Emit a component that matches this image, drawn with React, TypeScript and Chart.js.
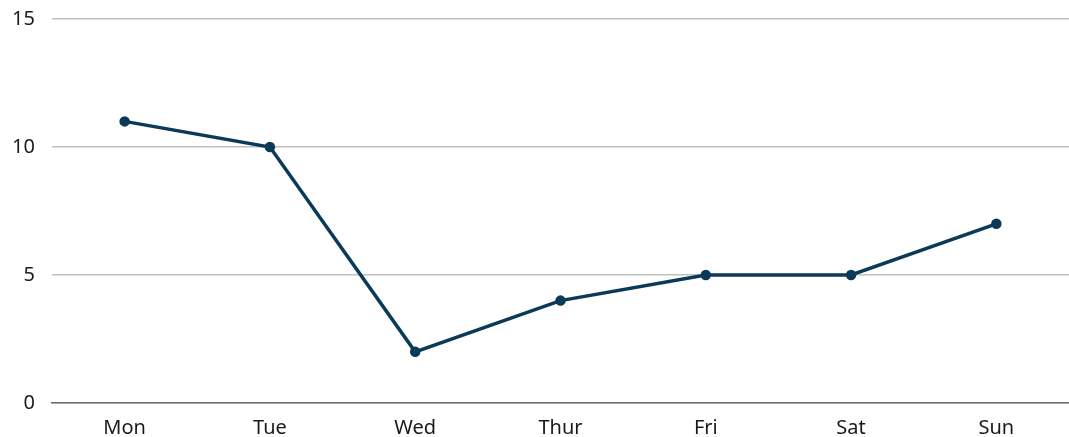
import React, { useEffect, useRef } from "react";
import { Chart, registerables } from "chart.js";

Chart.register(...registerables);

const categories = ["Mon", "Tue", "Wed", "Thur", "Fri", "Sat", "Sun"];
const values = [11, 10, 2, 4, 5, 5, 7];
const yTicks = [0, 5, 10, 15];

export default function App() {
  const ref = useRef<HTMLCanvasElement | null>(null);
  useEffect(() => {
    document.body.style.margin = "0";
    const ctx = ref.current!;
    const chart = new Chart(ctx, {
      type: "line",
      data: {
        labels: categories,
        datasets: [
          {
            data: values,
            borderColor: "#0b3a58",
            backgroundColor: "#0b3a58",
            borderWidth: 3.5,
            pointRadius: 3.5,
            pointHoverRadius: 3.5,
            tension: 0,
          },
        ],
      },
      options: {
        animation: false,
        responsive: false,
        maintainAspectRatio: false,
        layout: { autoPadding: false, padding: { top: 8, right: 0, left: 0, bottom: 0 } },
        plugins: { legend: { display: false }, tooltip: { enabled: false }, title: { display: false } },
        scales: {
          x: {
            offset: true,
            grid: { display: false, drawTicks: false, tickLength: 0 },
            border: { display: true, color: "#6b6b6b", width: 1.5 },
            ticks: { padding: 13, color: "#1a1a1a", font: { family: "Noto Sans", size: 20 } },
            afterFit: (s: any) => { s.height = 34; },
          },
          y: {
            min: 0,
            max: 15,
            afterBuildTicks: (s: any) => { s.ticks = yTicks.map((v) => ({ value: v })); },
            grid: { color: "#bfbfbf", lineWidth: 1.5, drawTicks: false, tickLength: 0 },
            border: { display: false },
            ticks: { padding: 17, color: "#1a1a1a", font: { family: "Noto Sans", size: 20 } },
            afterFit: (s: any) => { s.width = 52; },
          },
        },
      },
    });
    return () => chart.destroy();
  }, []);
  return (
    <div style={{ width: 1069, height: 437, overflow: "hidden" }}>
      <canvas ref={ref} width={1069} height={447} style={{ width: 1069, height: 447, display: "block", marginTop: -10 }} />
    </div>
  );
}
